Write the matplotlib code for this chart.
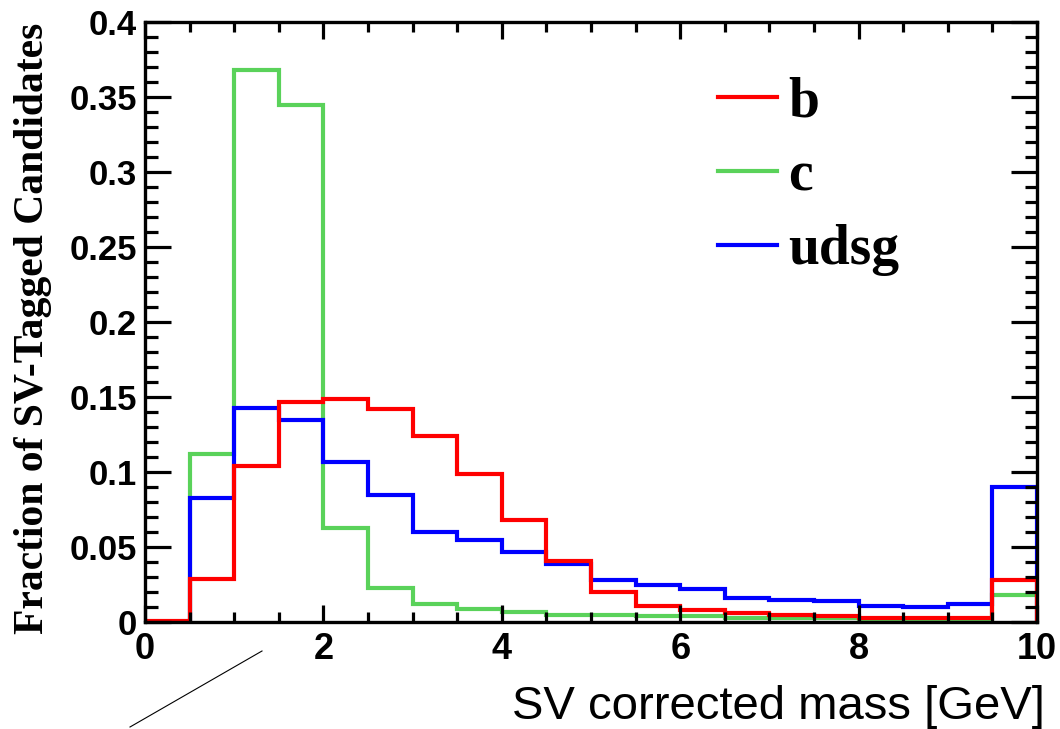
import matplotlib
matplotlib.use("Agg")
import matplotlib.pyplot as plt
from matplotlib.lines import Line2D
from matplotlib.ticker import MultipleLocator, FormatStrFormatter

# bin edges of SV corrected mass [GeV]
edges = [0.0, 0.5, 1.0, 1.5, 2.0, 2.5, 3.0, 3.5, 4.0, 4.5, 5.0,
         5.5, 6.0, 6.5, 7.0, 7.5, 8.0, 8.5, 9.0, 9.5, 10.0]

# fraction of SV-tagged candidates per bin
frac_b = [0.001, 0.029, 0.104, 0.147, 0.149, 0.142, 0.124, 0.099, 0.068, 0.041,
          0.020, 0.011, 0.008, 0.006, 0.005, 0.004, 0.003, 0.003, 0.003, 0.028]
frac_c = [0.0, 0.112, 0.368, 0.345, 0.063, 0.023, 0.012, 0.009, 0.007, 0.005,
          0.005, 0.004, 0.004, 0.003, 0.003, 0.003, 0.002, 0.002, 0.002, 0.018]
frac_udsg = [0.0, 0.083, 0.143, 0.135, 0.107, 0.085, 0.060, 0.055, 0.047, 0.039,
             0.028, 0.025, 0.022, 0.016, 0.015, 0.014, 0.011, 0.010, 0.012, 0.090]

labels = ["b", "c", "udsg"]
colors = {"b": "#ff0000", "c": "#5ad25a", "udsg": "#0000ff"}

plt.rcParams['font.family'] = 'Liberation Sans'
plt.rcParams['font.weight'] = 'bold'

fig = plt.figure(figsize=(10.6, 7.29), dpi=100)
ax = fig.add_axes([145 / 1060, 107 / 729, 892 / 1060, 600 / 729])

# draw c first, b last (on top)
h_c = ax.stairs(frac_c, edges, color=colors["c"], lw=3)
h_u = ax.stairs(frac_udsg, edges, color=colors["udsg"], lw=3)
h_b = ax.stairs(frac_b, edges, color=colors["b"], lw=3)

ax.set_xlim(0, 10)
ax.set_ylim(0, 0.4)

ax.xaxis.set_major_locator(MultipleLocator(2))
ax.xaxis.set_minor_locator(MultipleLocator(0.5))
ax.yaxis.set_major_locator(MultipleLocator(0.05))
ax.yaxis.set_minor_locator(MultipleLocator(0.01))
ax.yaxis.set_major_formatter(FormatStrFormatter('%g'))

ax.tick_params(which='both', direction='in', top=True, right=True, width=2.3)
ax.tick_params(axis='x', which='major', length=12, pad=7, labelsize=26)
ax.tick_params(axis='x', which='minor', length=7)
ax.tick_params(axis='y', which='major', length=19, pad=6, labelsize=25)
ax.tick_params(axis='y', which='minor', length=9)
for sp in ax.spines.values():
    sp.set_linewidth(2.4)

ax.set_ylabel('Fraction of SV-Tagged Candidates', family='Liberation Serif',
              fontweight='bold', fontsize=30)
ax.yaxis.set_label_coords(-0.104, 0.49)

fig.text(1045 / 1060, 10 / 729, 'SV corrected mass [GeV]',
         family='Liberation Sans', fontweight='normal', fontsize=34,
         ha='right', va='baseline')

leg = ax.legend([h_b, h_c, h_u], labels, loc='upper left',
                bbox_to_anchor=(0.618, 0.947), frameon=False,
                prop={'family': 'Liberation Serif', 'weight': 'bold', 'size': 40},
                handlelength=1.05, handletextpad=0.2, labelspacing=0.4,
                borderaxespad=0)
for line in leg.get_lines():
    line.set_linewidth(3)

# stray pointer line at bottom left
fig.add_artist(Line2D([130 / 1060, 262 / 1060], [2 / 729, 78 / 729],
                      color='black', lw=0.8))

fig.savefig('out.png', dpi=100)
